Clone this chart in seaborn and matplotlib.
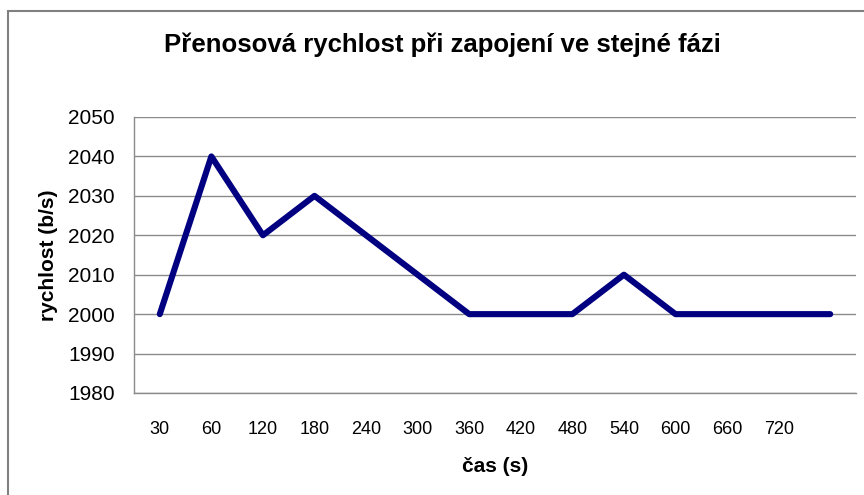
import numpy as np
import pandas as pd
import matplotlib
matplotlib.use("Agg")
import matplotlib.pyplot as plt
from matplotlib.patches import Rectangle
import seaborn as sns

# data
cas_labels = ["30", "60", "120", "180", "240", "300", "360", "420",
              "480", "540", "600", "660", "720", ""]
rychlost = [2000, 2040, 2020, 2030, 2020, 2010, 2000, 2000,
            2000, 2010, 2000, 2000, 2000, 2000]
y_ticks = [1980, 1990, 2000, 2010, 2020, 2030, 2040, 2050]

df = pd.DataFrame({"pos": np.arange(len(cas_labels)), "rychlost": rychlost})

sns.set_style("white")
plt.rcParams["font.family"] = ["Liberation Sans", "DejaVu Sans"]
plt.rcParams["text.color"] = "black"
plt.rcParams["xtick.labelcolor"] = "black"
plt.rcParams["ytick.labelcolor"] = "black"
plt.rcParams["axes.labelcolor"] = "black"

fig = plt.figure(figsize=(8.64, 4.95), dpi=100)
ax = fig.add_axes([134 / 864, 1 - 393 / 495, (856 - 134) / 864, (393 - 117) / 495])

grey = "#8a8a8a"
for y in y_ticks:
    ax.axhline(y, color=grey, lw=1.0, zorder=0)

sns.lineplot(data=df, x="pos", y="rychlost", ax=ax, color="#000080",
             linewidth=4.4, solid_capstyle="round", solid_joinstyle="round",
             zorder=3)

ax.set_xlim(-0.5, len(cas_labels) - 0.5)
ax.set_ylim(1980, 2050)
ax.set_yticks(y_ticks)
ax.set_yticklabels([str(v) for v in y_ticks], fontsize=15)
ax.set_xticks(df["pos"])
ax.set_xticklabels(cas_labels, fontsize=13)
ax.set_xticks(np.arange(-0.5, len(cas_labels)), minor=True)
ax.tick_params(axis="x", which="major", length=0, pad=20)
ax.tick_params(axis="x", which="minor", length=6, color=grey, width=1, direction="out")
ax.tick_params(axis="y", length=6, color=grey, width=1, direction="out", pad=8)

for s in ["top", "right"]:
    ax.spines[s].set_visible(False)
for s in ["left", "bottom"]:
    ax.spines[s].set_color(grey)
    ax.spines[s].set_linewidth(1.0)

ax.set_ylabel("rychlost (b/s)", fontsize=15, fontweight="bold", labelpad=7)
ax.set_xlabel("čas (s)", fontsize=15, fontweight="bold", labelpad=14)
fig.text(442 / 864, 1 - 45 / 495, "Přenosová rychlost při zapojení ve stejné fázi",
         ha="center", va="center", fontsize=18.5, fontweight="bold")

# chart area border (cut off at right and bottom)
fig.add_artist(Rectangle((8 / 864, -0.1), 1.2, 1.1 - 11 / 495, transform=fig.transFigure,
                         fill=False, edgecolor="#808080", lw=1.5, clip_on=False))

fig.savefig("out.png", dpi=100)
plt.close(fig)
